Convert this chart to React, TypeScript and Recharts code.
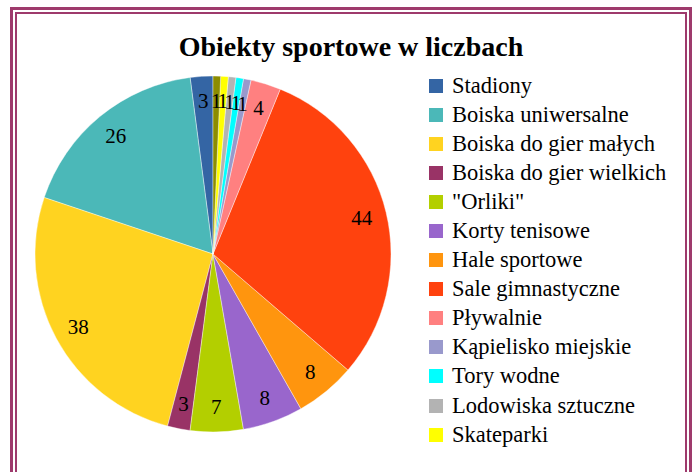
import React from 'react';
import { PieChart, Pie, Cell } from 'recharts';

const names = [
  'Stadiony',
  'Boiska uniwersalne',
  'Boiska do gier małych',
  'Boiska do gier wielkich',
  '"Orliki"',
  'Korty tenisowe',
  'Hale sportowe',
  'Sale gimnastyczne',
  'Pływalnie',
  'Kąpielisko miejskie',
  'Tory wodne',
  'Lodowiska sztuczne',
  'Skateparki',
  'Inne',
];
const values = [3, 26, 38, 3, 7, 8, 8, 44, 4, 1, 1, 1, 1, 1];
const colors = [
  '#3465a4',
  '#4bb8b8',
  '#ffd320',
  '#993366',
  '#b3cf00',
  '#9966cc',
  '#ff950e',
  '#ff420e',
  '#ff8080',
  '#9999cc',
  '#00ffff',
  '#b3b3b3',
  '#ffff00',
  '#8c8c00',
];
// the last slice has no entry in the legend
const legendCount = 13;

const data = names.map((name, i) => ({ name, value: values[i], color: colors[i] }));

const FONT = '"Liberation Serif", "Times New Roman", serif';
const FRAME = '#9e3a6c';
const RADIAN = Math.PI / 180;

const renderLabel = ({ cx, cy, midAngle, outerRadius, value }: any) => {
  const r = outerRadius - 25;
  const x = cx + r * Math.cos(-midAngle * RADIAN);
  const y = cy + r * Math.sin(-midAngle * RADIAN);
  return (
    <text
      x={x}
      y={y}
      fill="#000"
      textAnchor="middle"
      dominantBaseline="central"
      style={{ fontFamily: FONT, fontSize: 21 }}
    >
      {value}
    </text>
  );
};

const ChartLegend = () => (
  <div
    style={{
      position: 'absolute',
      left: 429,
      top: 71,
      fontFamily: FONT,
      fontSize: 22.5,
      color: '#000',
    }}
  >
    {data.slice(0, legendCount).map((d) => (
      <div
        key={d.name}
        style={{ display: 'flex', alignItems: 'center', height: 29.1, whiteSpace: 'nowrap' }}
      >
        <span
          style={{
            display: 'inline-block',
            width: 14,
            height: 14,
            background: d.color,
            marginRight: 9,
          }}
        />
        {d.name}
      </div>
    ))}
  </div>
);

export default function App() {
  return (
    <div
      style={{
        position: 'fixed',
        left: 0,
        top: 0,
        width: 692,
        height: 472,
        background: '#fff',
        overflow: 'hidden',
      }}
    >
      <div
        style={{
          position: 'absolute',
          left: 10,
          top: 7,
          width: 682,
          height: 480,
          border: `3px solid ${FRAME}`,
          boxSizing: 'border-box',
        }}
      >
        <div
          style={{
            position: 'absolute',
            left: 2,
            top: 2,
            right: 2,
            bottom: 2,
            border: `2px solid ${FRAME}`,
          }}
        />
      </div>
      <div
        style={{
          position: 'absolute',
          left: 0,
          top: 30,
          width: 702,
          textAlign: 'center',
          fontFamily: FONT,
          fontWeight: 'bold',
          fontSize: 28,
          lineHeight: '34px',
        }}
      >
        Obiekty sportowe w liczbach
      </div>
      <div style={{ position: 'absolute', left: 0, top: 0 }}>
        <PieChart width={692} height={472} margin={{ top: 0, right: 0, bottom: 0, left: 0 }}>
          <Pie
            data={data}
            dataKey="value"
            nameKey="name"
            cx={213}
            cy={254}
            outerRadius={178}
            startAngle={90}
            endAngle={450}
            label={renderLabel}
            labelLine={false}
            isAnimationActive={false}
          >
            {data.map((d, i) => (
              <Cell key={`cell-${i}`} fill={d.color} stroke="#ffffff" strokeWidth={0.4} />
            ))}
          </Pie>
        </PieChart>
      </div>
      <ChartLegend />
    </div>
  );
}
